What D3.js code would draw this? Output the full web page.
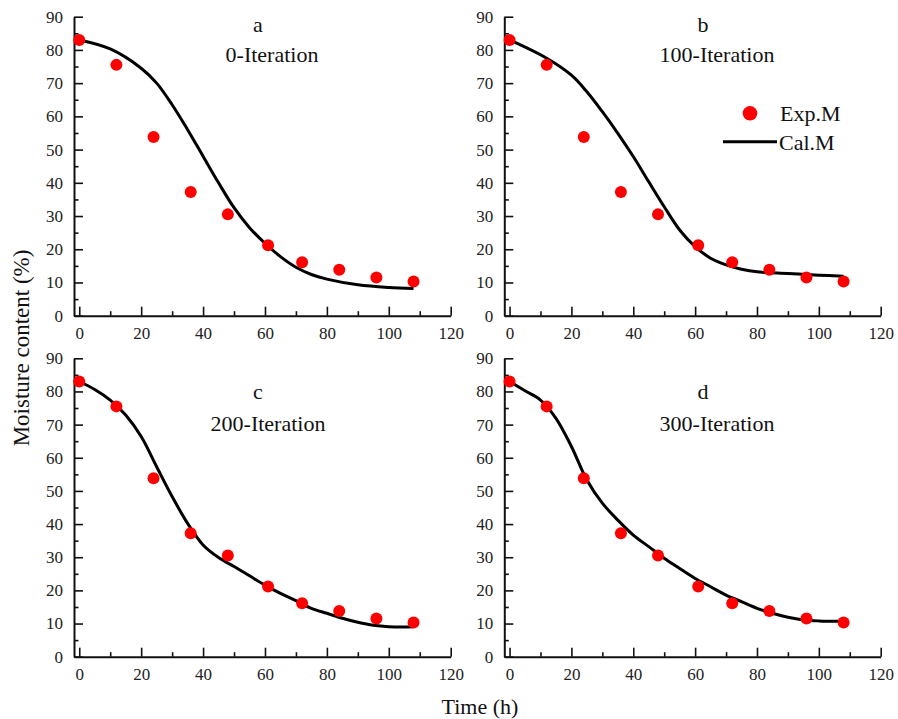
<!DOCTYPE html>
<html>
<head>
<meta charset="utf-8">
<script src="https://cdn.jsdelivr.net/npm/d3@7"></script>
<style>
  body { margin: 0; background: #fff; }
  svg { display: block; }
</style>
</head>
<body>
<div class="chart"></div>
<script>
// experimental moisture (same in every panel)
const expTime = [0, 12, 24, 36, 48, 61, 72, 84, 96, 108];
const expM = [83, 75.5, 53.8, 37.2, 30.5, 21.2, 16.1, 13.8, 11.5, 10.3];

// calculated curves
const calTimeA = [0, 10, 20, 25, 30, 35, 40, 45, 50, 55, 60, 65, 70, 75, 80, 90, 100, 108];
const calA = [83, 80.3, 74.5, 70, 63.5, 56, 48, 40, 32.5, 26.5, 21.8, 17.8, 14.6, 12.4, 11, 9.3, 8.5, 8.2];

const calTimeB = [0, 12, 20, 25, 30, 35, 40, 45, 50, 55, 60, 65, 70, 75, 80, 90, 100, 108];
const calB = [83, 77.5, 72.4, 67.4, 61.4, 54.9, 47.9, 40.3, 32.8, 25.8, 20.8, 17.3, 15.3, 14, 13.2, 12.7, 12.2, 11.9];

const calTimeC = [0, 5, 10, 15, 20, 25, 30, 35, 40, 45, 50, 55, 60, 65, 70, 75, 80, 85, 90, 95, 100, 105, 108];
const calC = [83, 80.6, 77.4, 72.9, 66.4, 57.3, 48.3, 40.2, 33.7, 29.9, 27.2, 24.4, 21.6, 19.1, 16.9, 14.6, 13.1, 11.6, 10.4, 9.5, 9.05, 8.95, 9.05];

const calTimeD = [0, 5, 10, 15, 20, 25, 30, 35, 40, 45, 50, 55, 60, 65, 70, 75, 80, 85, 90, 95, 100, 108];
const calD = [83, 80.2, 77.4, 71.9, 63.4, 53.3, 46.3, 41.2, 36.7, 33.2, 29.7, 26.6, 23.6, 21.1, 18.6, 16.6, 14.6, 13.1, 11.9, 11.1, 10.8, 10.7];

const panelLetters = ['a', 'b', 'c', 'd'];
const panelTitles = ['0-Iteration', '100-Iteration', '200-Iteration', '300-Iteration'];

const xMajor = [0, 20, 40, 60, 80, 100, 120];
const xMinor = [10, 30, 50, 70, 90, 110];
const yMajor = [0, 10, 20, 30, 40, 50, 60, 70, 80, 90];
const yMinor = [5, 15, 25, 35, 45, 55, 65, 75, 85];

const W = 898, H = 719;
const serif = '"Liberation Serif", "Times New Roman", serif';

const svg = d3.select('.chart').append('svg')
  .attr('width', W)
  .attr('height', H);

// layout of the four panels
const panels = [
  { left: 74, right: 450.7, top: 16.7, bottom: 315.7, times: calTimeA, cal: calA,
    letter: [258, 32], title: [272, 62] },
  { left: 504.3, right: 880.7, top: 16.7, bottom: 315.7, times: calTimeB, cal: calB,
    letter: [703, 32], title: [717, 62] },
  { left: 74, right: 450.7, top: 358.3, bottom: 656.7, times: calTimeC, cal: calC,
    letter: [258, 399], title: [268, 431] },
  { left: 504.3, right: 880.7, top: 358.3, bottom: 656.7, times: calTimeD, cal: calD,
    letter: [703, 399], title: [717, 431] }
];

function styleAxis(s) {
  s.attr('font-family', serif);
  s.select('.domain').attr('stroke', '#111').attr('stroke-width', 2);
  s.selectAll('.tick line').attr('stroke', '#111').attr('stroke-width', 1.6);
  s.selectAll('.tick text')
    .style('font-family', serif)
    .style('font-size', '17px')
    .attr('fill', '#222');
}

panels.forEach((p, i) => {
  const x = d3.scaleLinear().domain([-1.7, 120]).range([p.left, p.right]);
  const y = d3.scaleLinear().domain([0, 90]).range([p.bottom, p.top]);

  const g = svg.append('g');

  // minor ticks
  g.append('g')
    .attr('transform', `translate(0,${p.bottom})`)
    .call(d3.axisBottom(x).tickValues(xMinor).tickSizeInner(-4.5).tickSizeOuter(0).tickFormat(''))
    .call(styleAxis)
    .call(s => s.select('.domain').remove());

  g.append('g')
    .attr('transform', `translate(${p.left},0)`)
    .call(d3.axisLeft(y).tickValues(yMinor).tickSizeInner(-4.5).tickSizeOuter(0).tickFormat(''))
    .call(styleAxis)
    .call(s => s.select('.domain').remove());

  // major ticks + labels
  g.append('g')
    .attr('transform', `translate(0,${p.bottom})`)
    .call(d3.axisBottom(x).tickValues(xMajor).tickSizeInner(-9).tickSizeOuter(0).tickPadding(11))
    .call(styleAxis);

  g.append('g')
    .attr('transform', `translate(${p.left},0)`)
    .call(d3.axisLeft(y).tickValues(yMajor).tickSizeInner(-9).tickSizeOuter(0).tickPadding(11))
    .call(styleAxis);

  // calculated curve
  const line = d3.line()
    .x(d => x(d[0]))
    .y(d => y(d[1]))
    .curve(d3.curveCatmullRom.alpha(0.5));

  g.append('path')
    .datum(p.times.map((t, k) => [t, p.cal[k]]))
    .attr('fill', 'none')
    .attr('stroke', '#000')
    .attr('stroke-width', 3)
    .attr('d', line);

  // experimental points
  g.selectAll('circle.exp')
    .data(expTime.map((t, k) => [t, expM[k]]))
    .join('circle')
    .attr('class', 'exp')
    .attr('cx', d => x(d[0]))
    .attr('cy', d => y(d[1]))
    .attr('r', 6)
    .attr('fill', '#f00');

  g.append('text')
    .attr('x', p.letter[0]).attr('y', p.letter[1])
    .attr('text-anchor', 'middle')
    .attr('font-family', serif).attr('font-size', 22).attr('fill', '#111')
    .text(panelLetters[i]);

  g.append('text')
    .attr('x', p.title[0]).attr('y', p.title[1])
    .attr('text-anchor', 'middle')
    .attr('font-family', serif).attr('font-size', 22).attr('fill', '#111')
    .text(panelTitles[i]);
});

// legend (panel b)
const leg = svg.append('g');
leg.append('circle').attr('cx', 750).attr('cy', 113.3).attr('r', 7.3).attr('fill', '#f00');
leg.append('text').attr('x', 780).attr('y', 121)
  .attr('font-family', serif).attr('font-size', 22).attr('fill', '#111').text('Exp.M');
leg.append('line').attr('x1', 723).attr('x2', 777).attr('y1', 141.7).attr('y2', 141.7)
  .attr('stroke', '#000').attr('stroke-width', 3);
leg.append('text').attr('x', 779).attr('y', 149.5)
  .attr('font-family', serif).attr('font-size', 22).attr('fill', '#111').text('Cal.M');

// axis titles
svg.append('text')
  .attr('transform', 'translate(29,348) rotate(-90)')
  .attr('text-anchor', 'middle')
  .attr('font-family', serif).attr('font-size', 23).attr('fill', '#111')
  .text('Moisture content (%)');

svg.append('text')
  .attr('x', 480).attr('y', 714)
  .attr('text-anchor', 'middle')
  .attr('font-family', serif).attr('font-size', 22).attr('fill', '#111')
  .text('Time (h)');
</script>
</body>
</html>
